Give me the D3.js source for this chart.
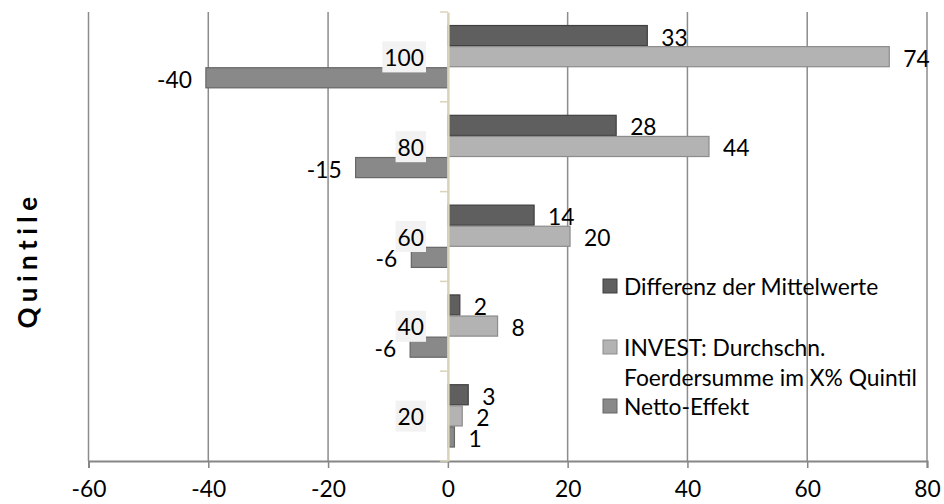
<!DOCTYPE html>
<html><head><meta charset="utf-8">
<script src="https://cdn.jsdelivr.net/npm/d3@7"></script>
<style>
html,body{margin:0;padding:0;background:#fff;}
svg{display:block;font-family:Lato,"Open Sans",sans-serif;}
</style></head>
<body>
<svg id="chart" width="944" height="504"></svg>
<script>
const categories = ["100", "80", "60", "40", "20"];
const seriesNames = ["Differenz der Mittelwerte", "INVEST: Durchschn. Foerdersumme im X% Quintil", "Netto-Effekt"];
const differenz = [33.3, 28.1, 14.4, 2.0, 3.4];
const invest = [73.7, 43.6, 20.4, 8.3, 2.4];
const netto = [-40.4, -15.4, -6.1, -6.3, 1.1];
const xTicks = [-60, -40, -20, 0, 20, 40, 60, 80];
const legendLines = [["Differenz der Mittelwerte"], ["INVEST: Durchschn.", "Foerdersumme im X% Quintil"], ["Netto-Effekt"]];
const axisTitle = "Quintile";

const fills = ["#5f5f5f", "#b3b3b3", "#898989"];
const strokes = ["#3f3f3f", "#8c8c8c", "#666666"];
const seriesVals = [differenz, invest, netto];
const FS = 22.8;
const hy = s => String(s).replace("\u2212", "-");

const svg = d3.select("#chart");
const x = d3.scaleLinear().domain([-60, 80]).range([88.5, 927]);
const y0 = d3.scaleBand().domain(categories).range([12, 461]).padding(0);
const bw = y0.bandwidth();
const y1 = d3.scaleBand().domain(d3.range(3)).range([bw * 0.145, bw * 0.85]).padding(0);

// gridlines
const grid = svg.append("g");
grid.selectAll("line").data(xTicks.filter(d => d !== 0)).join("line")
  .attr("x1", d => x(d)).attr("x2", d => x(d))
  .attr("y1", 12).attr("y2", 461)
  .attr("stroke", "#8c8c8c").attr("stroke-width", 1.5);

// x axis
const xAxis = svg.append("g").attr("transform", "translate(0,461)")
  .call(d3.axisBottom(x).tickValues(xTicks).tickSize(7).tickPadding(13).tickFormat(d => hy(d3.format("d")(d))));
xAxis.select(".domain").attr("stroke", "#868686").attr("stroke-width", 2);
xAxis.selectAll(".tick line").attr("stroke", "#868686").attr("stroke-width", 1.5);
xAxis.selectAll(".tick text").attr("font-family", "Lato").attr("font-size", FS).attr("fill", "#000")
  .attr("dy", "0.71em");

// bars
const fmt = v => hy(d3.format(".0f")(v));
categories.forEach((c, ci) => {
  const g = svg.append("g").attr("transform", `translate(0,${y0(c)})`);
  seriesVals.forEach((arr, si) => {
    const v = arr[ci];
    const yb = y1(si);
    const h = y1.bandwidth();
    const xa = Math.min(x(0), x(v)), xb = Math.max(x(0), x(v));
    g.append("rect")
      .attr("x", xa).attr("y", yb + 0.5)
      .attr("width", xb - xa).attr("height", h - 1)
      .attr("fill", fills[si]).attr("stroke", strokes[si]).attr("stroke-width", 1.2);
    g.append("text")
      .attr("x", v >= 0 ? x(v) + 14 : x(v) - 14)
      .attr("y", yb + h / 2 + 1)
      .attr("text-anchor", v >= 0 ? "start" : "end")
      .attr("dominant-baseline", "central")
      .attr("font-size", FS).attr("fill", "#000")
      .text(fmt(v));
  });
});

// y axis line
const yAxis = svg.append("g").attr("transform", `translate(${x(0)},0)`)
  .call(d3.axisLeft(y0).tickSize(0).tickFormat(""));
yAxis.select(".domain").attr("stroke", "#d9d4b8").attr("stroke-width", 2.5);
const bounds = categories.map(c => y0(c)).concat([461]);
svg.append("g").selectAll("line").data(bounds).join("line")
  .attr("x1", x(0) - 8).attr("x2", x(0))
  .attr("y1", d => d).attr("y2", d => d)
  .attr("stroke", "#d9d4b8").attr("stroke-width", 1.5);

// category labels with background
const catG = svg.append("g");
categories.forEach(c => {
  const cy = y0(c) + bw / 2;
  const t = catG.append("text")
    .attr("x", 424).attr("y", cy)
    .attr("text-anchor", "end").attr("dominant-baseline", "central")
    .attr("font-size", FS).attr("fill", "#000").text(c);
  const bb = t.node().getBBox();
  catG.insert("rect", "text")
    .attr("x", bb.x - 2).attr("y", cy - 15.5)
    .attr("width", bb.width + 4).attr("height", 31)
    .attr("fill", "#f2f2f2");
});

// axis title
svg.append("text")
  .attr("transform", "translate(37,260) rotate(-90)")
  .attr("text-anchor", "middle")
  .attr("font-size", 26).attr("font-weight", "bold")
  .attr("letter-spacing", 5.5)
  .attr("fill", "#000").text(axisTitle);

// legend
const leg = svg.append("g");
const rowY = [[286], [347, 377], [406]];
legendLines.forEach((lines, i) => {
  leg.append("rect")
    .attr("x", 603).attr("y", rowY[i][0] - 7)
    .attr("width", 14).attr("height", 14)
    .attr("fill", fills[i]).attr("stroke", strokes[i]).attr("stroke-width", 1);
  lines.forEach((ln, j) => {
    leg.append("text")
      .attr("x", 624).attr("y", rowY[i][j])
      .attr("dominant-baseline", "central")
      .attr("font-size", FS).attr("fill", "#000").text(ln);
  });
});
</script>
</body></html>
